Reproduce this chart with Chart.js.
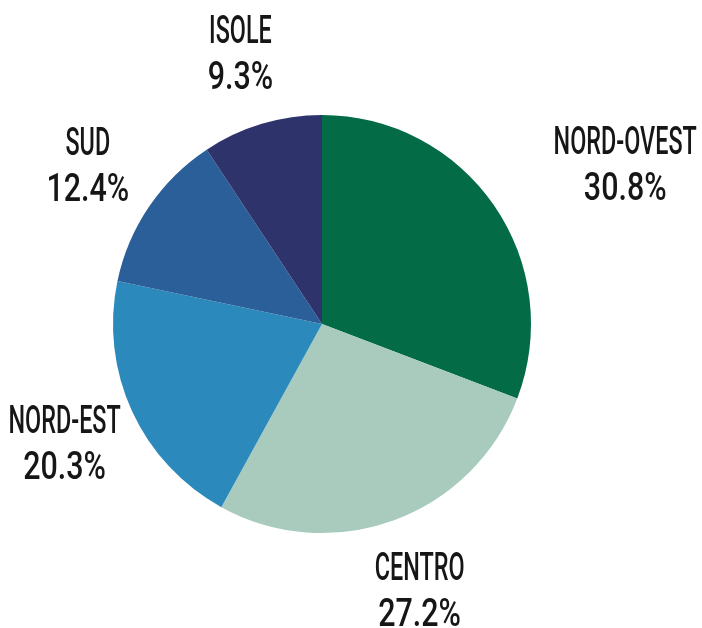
<!DOCTYPE html>
<html>
<head>
<meta charset="utf-8">
<script src="https://cdn.jsdelivr.net/npm/chart.js@4/dist/chart.umd.min.js"></script>
<style>
  html, body { margin: 0; padding: 0; background: #fff; }
  #wrap { width: 702px; height: 628px; }
</style>
</head>
<body>
<div id="wrap"><canvas id="pie"></canvas></div>
<script>
const regions = ['NORD-OVEST', 'CENTRO', 'NORD-EST', 'SUD', 'ISOLE'];
const shares = [30.8, 27.2, 20.3, 12.4, 9.3];
const sliceColors = ['#036b45', '#a8cbbe', '#2b8abb', '#2b5f99', '#2e336b'];

// two-line labels outside the slices, in a narrow tall face
const outsideLabels = {
  id: 'outsideLabels',
  afterDraw(chart, args, opts) {
    const ctx = chart.ctx;
    const meta = chart.getDatasetMeta(0);
    meta.data.forEach((arc, i) => {
      const p = arc.getProps(['x', 'y', 'startAngle', 'endAngle', 'outerRadius'], true);
      const mid = (p.startAngle + p.endAngle) / 2;
      const r = p.outerRadius * opts.radius;
      const nudge = opts.nudge[i] || [0, 0];
      const cx = p.x + Math.cos(mid) * r + nudge[0];
      const cy = p.y + Math.sin(mid) * r + nudge[1];
      const lines = [
        [regions[i], opts.nameScale],
        [shares[i].toFixed(1) + '%', opts.valueScale]
      ];
      ctx.save();
      ctx.fillStyle = '#161616';
      ctx.font = opts.font;
      ctx.textAlign = 'center';
      ctx.textBaseline = 'alphabetic';
      lines.forEach(([txt, sx], k) => {
        const y = cy + (k - 0.5) * opts.lineGap + opts.capHeight / 2;
        ctx.save();
        ctx.translate(cx, y);
        ctx.scale(sx, 1);
        ctx.fillText(txt, 0, 0);
        ctx.restore();
      });
      ctx.restore();
    });
  }
};

new Chart(document.getElementById('pie'), {
  type: 'pie',
  data: {
    labels: regions,
    datasets: [{
      data: shares,
      backgroundColor: sliceColors,
      borderWidth: 0
    }]
  },
  options: {
    responsive: true,
    maintainAspectRatio: false,
    animation: false,
    layout: { padding: { left: 113, right: 171, top: 115, bottom: 95 } },
    plugins: {
      legend: { display: false },
      tooltip: { enabled: false },
      outsideLabels: {
        radius: 1.355,
        nudge: [[70, 0]],
        font: '500 39px Roboto',
        capHeight: 27,
        nameScale: 0.6,
        valueScale: 0.78,
        lineGap: 46
      }
    }
  },
  plugins: [outsideLabels]
});
</script>
</body>
</html>
